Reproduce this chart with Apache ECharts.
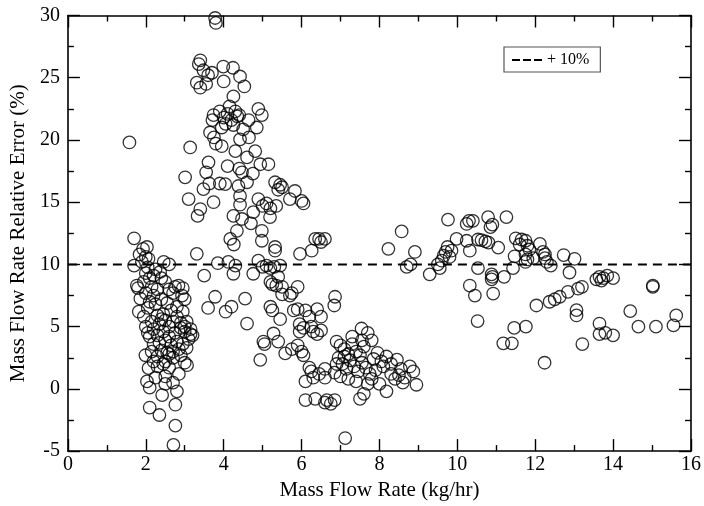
<!DOCTYPE html>
<html>
<head>
<meta charset="utf-8">
<script src="https://cdn.jsdelivr.net/npm/echarts@6/dist/echarts.min.js"></script>
<style>html,body{margin:0;padding:0;background:#fff}#c{width:704px;height:506px}</style>
</head>
<body>
<div id="c"></div>
<script>
// Measured points: [mass flow rate (kg/hr), relative error (%)]
const clusterLow = [
[1.58,19.8],[1.70,12.1],[2.03,11.4],[1.93,11.25],[1.84,10.8],[2.07,10.45],[1.70,9.9],[2.05,9.76],[2.46,10.2],[2.37,9.4],
[1.77,8.3],[2.84,8.3],[2.93,7.5],[1.86,7.26],[1.82,6.2],[1.8,8.1],[1.95,8.6],[2.0,9.3],[2.1,8.9],[2.15,8.2],
[2.0,7.7],[2.2,7.5],[2.1,7.0],[2.3,8.0],[2.25,6.8],[2.4,7.2],[2.5,8.6],[2.6,8.0],[2.7,7.7],[2.55,6.9],
[2.75,8.2],[2.95,8.1],[3.0,7.2],[2.8,6.6],[2.65,6.3],[2.45,6.0],[2.3,5.9],[2.05,6.5],[1.95,5.8],[2.15,5.4],
[2.35,5.2],[2.5,5.5],[2.6,5.0],[2.8,5.8],[2.95,6.2],[3.05,5.4],[3.15,4.8],[3.2,4.3],[3.1,4.0],[3.0,4.6],
[2.9,4.9],[2.75,4.5],[2.6,4.2],[2.45,4.6],[2.3,4.3],[2.2,4.8],[2.1,4.2],[2.2,3.6],[2.35,3.7],[2.5,3.9],
[2.65,3.5],[2.8,3.8],[2.95,3.6],[3.05,3.3],[3.15,4.4],[2.4,3.1],[2.55,2.9],[2.7,3.0],[2.85,3.2],[2.15,3.0],
[2.3,2.6],[2.5,2.2],[2.7,2.5],[2.9,2.7],[3.0,2.1],[1.99,2.7],[2.07,1.67],[2.3,1.8],[2.45,2.0],[2.6,1.7],
[3.06,1.9],[2.03,0.6],[2.1,0.1],[2.42,-0.5],[2.7,0.5],[2.8,-0.2],[2.5,0.4],[2.5,1.0],[2.76,-1.27],[2.1,-1.5],
[2.35,-2.1],[2.76,-2.95],[2.71,-4.5],[2.25,0.9],[2.85,1.2],[2.6,2.8],[2.2,2.2],[2.0,5.0],[2.05,4.5],[2.4,5.6],
[2.7,5.4],[2.9,5.3],[3.0,5.0],[2.25,9.6],[2.6,10.0],[2.4,8.9],[2.2,9.1],[2.0,10.6],[1.9,10.2]
];
const clusterHigh = [
[3.01,17.0],[3.1,15.25],[3.33,13.9],[3.4,14.45],[3.48,16.05],[3.74,15.0],[3.55,17.4],[3.63,16.5],[3.14,19.4],[3.61,18.2],
[3.78,29.8],[3.8,29.4],[3.4,26.4],[3.36,26.1],[3.48,25.6],[3.6,25.2],[3.31,24.6],[3.4,24.2],[3.55,24.5],[3.74,22.0],
[3.71,21.6],[3.65,20.6],[3.75,20.2],[3.8,19.7],[3.7,25.4],[3.99,25.9],[4.24,25.8],[4.0,24.7],[4.42,25.1],[4.53,24.3],
[4.25,23.5],[3.9,22.3],[4.0,21.8],[4.1,22.1],[4.2,21.6],[4.3,22.3],[4.15,22.7],[4.35,21.9],[4.05,21.3],[3.95,21.0],
[4.25,21.2],[4.4,22.0],[4.89,22.5],[4.98,22.0],[4.64,21.6],[4.85,21.0],[4.5,20.85],[4.42,20.05],[4.65,20.2],[4.3,19.1],
[4.81,19.1],[4.6,18.6],[3.95,19.5],[4.94,18.05],[5.15,18.05],[4.1,17.9],[4.4,17.7],[4.47,17.4],[4.75,17.3],[4.04,16.45],
[3.9,16.5],[4.38,16.3],[4.6,16.6],[5.32,16.6],[5.45,16.4],[5.5,16.2],[5.4,16.0],[5.83,15.9],[5.7,15.25],[6.0,15.1],
[6.05,14.9],[4.42,15.5],[4.42,14.8],[4.89,15.25],[5.0,14.7],[5.1,14.9],[5.2,14.5],[5.35,14.7],[4.25,13.9],[4.76,14.2],
[5.19,13.8],[4.47,13.65],[4.7,13.3],[4.98,12.7],[4.34,12.7],[4.17,12.05],[4.26,11.6],[4.98,11.9],[5.32,11.4],[5.32,11.1],
[5.96,10.85],[6.26,11.1],[6.35,12.05],[6.45,12.05],[6.6,12.05],[6.5,11.8]
];
const clusterMid = [
[3.31,10.85],[3.5,9.1],[3.78,7.4],[3.6,6.5],[4.12,10.2],[4.3,9.9],[4.25,9.25],[3.85,10.1],[4.89,10.3],[4.76,9.25],
[5.0,9.8],[5.1,9.9],[5.2,9.7],[5.3,9.8],[5.45,9.9],[5.2,8.6],[5.25,8.4],[5.35,8.3],[5.4,9.0],[5.5,8.2],
[5.5,7.6],[5.7,7.5],[5.75,7.7],[5.9,8.2],[6.86,7.4],[6.84,6.7],[4.55,7.25],[4.2,6.6],[4.05,6.2],[5.2,6.6],
[5.25,6.3],[5.45,5.6],[5.8,6.3],[5.9,6.4],[6.1,6.3],[6.2,5.8],[6.4,6.4],[6.5,5.8],[4.6,5.25],[6.05,4.9],
[6.25,5.0],[5.95,5.2],[7.54,4.85],[5.28,4.45],[5.02,3.8],[5.05,3.6],[5.4,3.8],[5.58,2.85],[4.94,2.33],[5.75,3.2],
[5.95,4.6],[5.9,3.5],[6.0,3.0],[6.05,2.7],[6.3,4.6],[6.4,4.4],[6.5,4.7],[6.2,1.7],[6.25,1.4],[6.1,0.6],
[6.3,0.9],[6.45,1.2],[6.6,1.6],[6.6,0.9],[6.1,-0.9],[6.35,-0.8],[6.65,-0.9],[6.85,-0.9],[6.6,-1.1],[6.75,-1.2],
[7.12,-3.95],[7.5,-0.8],[7.6,-0.4]
];
const clusterEight = [
[6.9,3.8],[7.0,3.5],[7.1,3.2],[7.2,2.8],[7.3,3.6],[7.4,3.0],[7.5,2.7],[7.6,3.4],[7.7,4.5],[7.8,3.9],
[6.95,2.5],[7.05,2.0],[7.15,1.6],[7.25,2.3],[7.35,1.8],[7.45,1.4],[7.55,2.1],[7.65,1.7],[7.75,1.2],[7.85,2.4],
[7.95,2.9],[8.05,2.2],[8.1,1.8],[7.9,1.5],[7.8,0.8],[7.7,0.4],[7.0,1.0],[7.2,0.8],[7.4,0.6],[8.18,2.6],
[8.45,2.35],[8.78,1.8],[8.87,1.4],[8.95,0.33],[8.6,0.5],[8.4,0.8],[8.18,-0.2],[8.0,0.4],[8.3,1.2],[8.5,1.1],
[8.65,0.9],[8.3,2.0],[8.55,1.6],[7.1,2.6],[6.85,1.3],[7.55,3.9],[7.3,4.2],[6.9,2.0]
];
const clusterRight = [
[9.76,13.6],[8.57,12.65],[8.23,11.25],[8.91,11.0],[8.7,9.8],[8.8,10.0],[9.29,9.2],[9.5,10.0],[9.6,10.3],[9.65,10.7],
[9.7,11.0],[9.75,11.4],[9.8,10.6],[9.85,11.1],[9.55,9.7],[9.98,12.05],[10.24,13.25],[10.3,13.5],[10.4,13.5],[10.79,13.8],
[11.26,13.8],[10.9,13.2],[10.85,13.0],[10.24,11.9],[10.53,12.0],[10.62,11.95],[10.72,11.85],[10.8,11.75],[10.32,11.1],[11.05,11.35],
[10.53,9.7],[10.88,9.2],[10.9,9.0],[10.88,8.8],[11.2,9.0],[11.43,9.7],[11.47,10.65],[10.32,8.3],[10.45,7.5],[10.92,7.66],
[10.52,5.45],[11.5,12.1],[11.65,12.0],[11.75,11.9],[11.6,11.6],[11.8,11.5],[11.85,11.2],[11.75,10.8],[11.8,10.4],[11.75,10.2],
[11.95,10.5],[12.12,11.65],[12.2,11.0],[12.25,10.8],[12.25,10.5],[12.3,10.2],[12.4,9.9],[12.73,10.75],[13.01,10.45],[12.88,9.35],
[13.57,8.8],[13.65,9.0],[13.75,8.9],[13.85,9.1],[14.0,8.9],[13.7,8.7],[15.02,8.3],[15.02,8.2],[12.03,6.7],[12.37,7.0],
[12.63,7.4],[12.84,7.8],[13.1,8.05],[13.2,8.2],[12.5,7.2],[13.06,6.33],[13.06,5.9],[14.44,6.25],[15.62,5.9],[13.65,5.25],
[14.65,5.0],[15.1,5.0],[15.55,5.1],[11.46,4.9],[11.76,5.0],[12.24,2.1],[13.21,3.6],[13.65,4.4],[13.8,4.5],[14.0,4.3],
[11.18,3.66],[11.4,3.66]
];
const measurements = [].concat(clusterLow, clusterHigh, clusterMid, clusterEight, clusterRight);
const refLevel = 10;
const refLine = [[0, refLevel], [16, refLevel]];
const refName = '+ 10%';
const xRange = [0, 16];
const yRange = [-5, 30];

const FONT = 'Liberation Serif, Times New Roman, serif';
const chart = echarts.init(document.getElementById('c'));
const axisCommon = {
  axisLine: { show: true, onZero: false, lineStyle: { color: '#000', width: 1.6 } },
  axisTick: { show: true, inside: true, length: 12, lineStyle: { color: '#000', width: 1.4 } },
  minorTick: { show: true, splitNumber: 2, length: 6, lineStyle: { color: '#000', width: 1.4 } },
  splitLine: { show: false },
  minorSplitLine: { show: false }
};
chart.setOption({
  animation: false,
  backgroundColor: '#fff',
  grid: { left: 67.5, right: 12.5, top: 15.5, bottom: 52.5 },
  legend: {
    show: true,
    data: [{ name: refName, icon: 'path://M0,0H8V2H0Z M11,0H19V2H11Z M22,0H30V2H22Z' }],
    left: 504, top: 47,
    orient: 'horizontal',
    padding: [5, 11, 4, 8],
    itemWidth: 30, itemHeight: 2,
    borderColor: '#555', borderWidth: 1.2, borderRadius: 0,
    backgroundColor: '#fff',
    textStyle: { fontFamily: FONT, fontSize: 16, color: '#000' }
  },
  xAxis: [
    Object.assign({}, axisCommon, {
      type: 'value', min: xRange[0], max: xRange[1], interval: 2, position: 'bottom',
      name: 'Mass Flow Rate (kg/hr)', nameLocation: 'middle', nameGap: 24,
      nameTextStyle: { fontFamily: FONT, fontSize: 21, color: '#000' },
      axisLabel: { fontFamily: FONT, fontSize: 20, color: '#000', margin: 4 }
    }),
    Object.assign({}, axisCommon, {
      type: 'value', min: xRange[0], max: xRange[1], interval: 2, position: 'top',
      axisLabel: { show: false }
    })
  ],
  yAxis: [
    Object.assign({}, axisCommon, {
      type: 'value', min: yRange[0], max: yRange[1], interval: 5, position: 'left',
      name: 'Mass Flow Rate Relative Error (%)', nameLocation: 'middle', nameGap: 37,
      nameTextStyle: { fontFamily: FONT, fontSize: 21, color: '#000' },
      axisLabel: { fontFamily: FONT, fontSize: 20, color: '#000', margin: 8 }
    }),
    Object.assign({}, axisCommon, {
      type: 'value', min: yRange[0], max: yRange[1], interval: 5, position: 'right',
      axisLabel: { show: false }
    })
  ],
  series: [
    {
      type: 'scatter', name: 'data', data: measurements,
      symbol: 'circle', symbolSize: 12.5,
      itemStyle: { color: 'rgba(0,0,0,0)', borderColor: '#000', borderWidth: 1.3 },
      z: 3
    },
    {
      type: 'line', name: refName, data: refLine,
      showSymbol: false, symbol: 'none',
      lineStyle: { color: '#000', width: 2, type: [9, 6] },
      itemStyle: { color: '#000' },
      z: 2
    }
  ]
});
</script>
</body>
</html>
